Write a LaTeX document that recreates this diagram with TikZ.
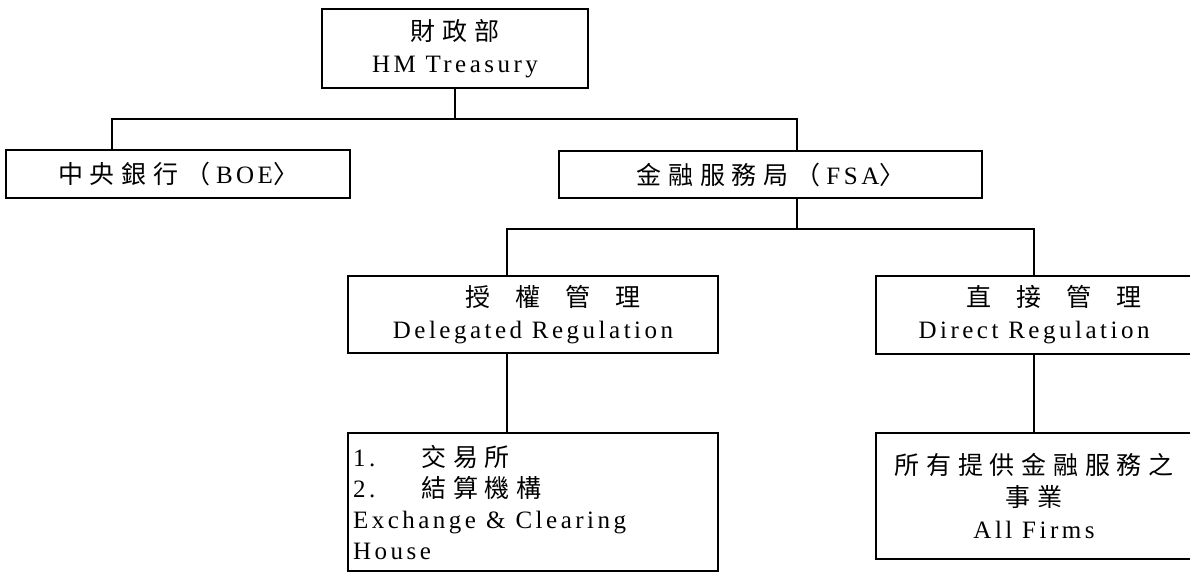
\documentclass[tikz,border=0pt]{standalone}
\usepackage{fontspec}
\setmainfont{Liberation Serif}[LetterSpace=14]
\newfontfamily\cjk{Noto Sans CJK TC}[LetterSpace=27]
\newcommand{\zh}[1]{{\cjk #1}}
\begin{document}
\begin{tikzpicture}[x=1pt,y=-1pt,
  box/.style={draw, line width=1.5pt, inner sep=0pt, align=center,
    font=\fontsize{25}{32}\selectfont},
  conn/.style={line width=1.5pt}]
\useasboundingbox (0,0) rectangle (1190,574);
\begin{scope}
\clip (-1,-1) rectangle (1191,575);
\node[box, minimum width=266pt, minimum height=79pt] (T) at (455,48.5)
  {\zh{財政部}\\HM Treasury};
\node[box, minimum width=344pt, minimum height=48pt] (BOE) at (178,174)
  {\zh{中央銀行（}\hspace{6pt}BOE\zh{〉}};
\node[box, minimum width=423pt, minimum height=47pt] (FSA) at (770.5,174.5)
  {\zh{金融服務局（}\hspace{6pt}FSA\zh{〉}};
\node[box, minimum width=370pt, minimum height=77pt] (DEL) at (533,314.5)
  {\hspace*{40pt}\zh{授 \ 權 \ 管 \ 理}\\Delegated Regulation};
\node[box, minimum width=316pt, minimum height=78pt] (DIR) at (1034,315)
  {\hspace*{40pt}\zh{直 \ 接 \ 管 \ 理}\\Direct Regulation};
\node[box, minimum width=370pt, minimum height=138pt, text width=360pt,
  align=left, font=\fontsize{25}{31}\selectfont] (EX) at (533,502)
  {1.\hspace{46pt}\zh{交易所}\\2.\hspace{46pt}\zh{結算機構}\\Exchange\hspace{10pt}\&\hspace{10pt}Clearing\\House};
\node[box, minimum width=316pt, minimum height=126pt] (ALL) at (1034,496)
  {\zh{所有提供金融服務之}\\\zh{事業}\\All Firms};
\end{scope}
\coordinate (b1) at (112,119);
\coordinate (b2) at (797,119);
\coordinate (c1) at (507,229);
\coordinate (c2) at (1034,229);
\draw[conn] (T.south) -- (T.south |- b1);
\draw[conn] (BOE.north -| b1) -- (b1) -- (b2) -- (FSA.north -| b2);
\draw[conn] (FSA.south -| b2) -- (c1 -| b2);
\draw[conn] (DEL.north -| c1) -- (c1) -- (c2) -- (DIR.north -| c2);
\draw[conn] (DEL.south -| c1) -- (EX.north -| c1);
\draw[conn] (DIR.south -| c2) -- (ALL.north -| c2);
\end{tikzpicture}
\end{document}
